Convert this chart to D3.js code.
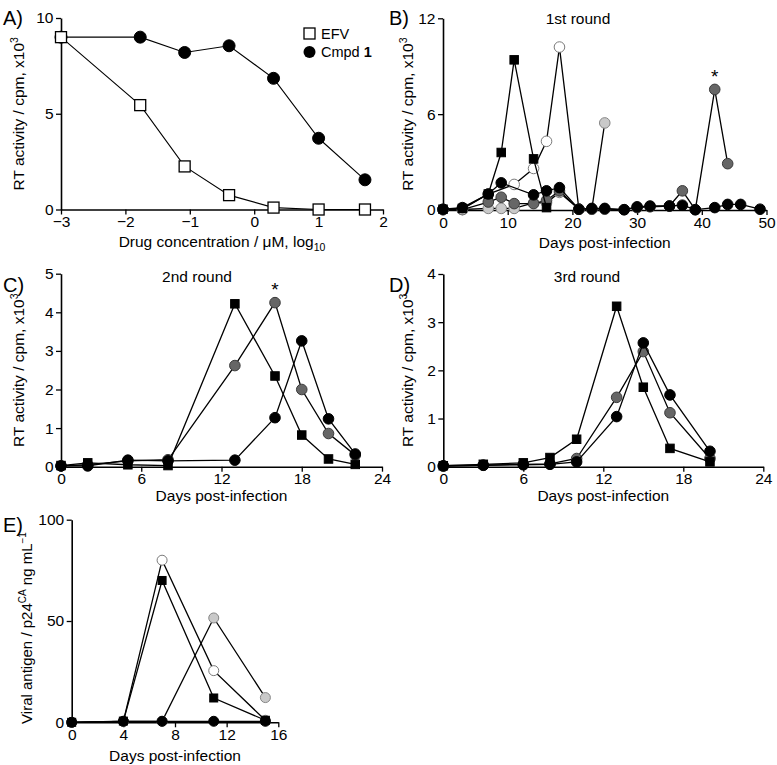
<!DOCTYPE html>
<html><head><meta charset="utf-8">
<script src="https://cdn.jsdelivr.net/npm/d3@7"></script>
<style>
body{margin:0;background:#fff;}
svg{display:block;font-family:"Liberation Sans",Arial,Helvetica,sans-serif;}
</style></head>
<body>
<script>
// ---------- DATA ----------
// Panel A
const aConc = [-3, -1.77, -1.08, -0.39, 0.3, 1.0, 1.72];
const aEFV  = [9.0, 5.45, 2.25, 0.75, 0.1, 0.0, 0.0];
const aCmpd = [9.0, 9.0, 8.2, 8.55, 6.85, 3.72, 1.55];
const aXTicks = [-3, -2, -1, 0, 1, 2];
const aYTicks = [0, 5, 10];
// Panel B (1st round)
const bSqDays    = [0, 3, 7, 9, 11, 14, 16];
const bSq        = [0.05, 0.1, 1.0, 3.6, 9.4, 3.2, 0.15];
const bOpenDays  = [0, 3, 7, 11, 14, 16, 18, 21];
const bOpen      = [0.03, 0.05, 1.0, 1.6, 2.6, 4.3, 10.2, 0.05];
const bLightDays = [0, 3, 7, 9, 11, 14, 16, 18, 21, 23, 25];
const bLight     = [0.02, 0.03, 0.1, 0.1, 0.1, 0.45, 0.45, 1.1, 0.05, 0.05, 5.45];
const bDarkDays  = [0, 3, 7, 9, 11, 14, 16, 18, 21, 23, 25, 28, 30, 32, 35, 37, 39, 42, 44];
const bDark      = [0.02, 0.03, 0.5, 0.8, 0.4, 0.4, 0.6, 1.2, 0.05, 0.05, 0.05, 0.02, 0.15, 0.2, 0.25, 1.2, 0.02, 7.55, 2.9];
const bBlackDays = [0, 3, 7, 9, 14, 16, 18, 21, 23, 25, 28, 30, 32, 35, 37, 39, 42, 44, 46, 49];
const bBlack     = [0.05, 0.15, 1.0, 1.7, 0.95, 1.2, 1.4, 0.05, 0.1, 0.1, 0.02, 0.2, 0.25, 0.25, 0.3, 0.02, 0.15, 0.35, 0.35, 0.05];
const bXTicks = [0, 10, 20, 30, 40, 50];
const bYTicks = [0, 6, 12];
// Panel C (2nd round)
const cDays  = [0, 2, 5, 8, 13, 16, 18, 20, 22];
const cSq    = [0.03, 0.1, 0.05, 0.03, 4.22, 2.35, 0.82, 0.2, 0.06];
const cGray  = [0.02, 0.05, 0.15, 0.18, 2.62, 4.25, 2.0, 0.86, 0.3];
const cBlack = [0.02, 0.02, 0.17, 0.15, 0.17, 1.27, 3.26, 1.24, 0.33];
const cXTicks = [0, 6, 12, 18, 24];
const cYTicks = [0, 1, 2, 3, 4, 5];
// Panel D (3rd round)
const dDays  = [0, 3, 6, 8, 10, 13, 15, 17, 20];
const dSq    = [0.02, 0.05, 0.08, 0.19, 0.57, 3.33, 1.65, 0.38, 0.1];
const dGray  = [0.01, 0.03, 0.05, 0.06, 0.17, 1.44, 2.39, 1.12, 0.17];
const dBlack = [0.02, 0.03, 0.04, 0.05, 0.1, 1.04, 2.57, 1.49, 0.32];
const dXTicks = [0, 6, 12, 18, 24];
const dYTicks = [0, 1, 2, 3, 4];
// Panel E (p24)
const eDays  = [0, 4, 7, 11, 15];
const eSq    = [0, 0.6, 70, 12, 1];
const eOpen  = [0, 0.5, 80, 25.5, 1];
const eLight = [0, 0.5, 0.5, 51.5, 12.2];
const eBlack = [0, 0.5, 0.5, 0.5, 0.5];
const eXTicks = [0, 4, 8, 12, 16];
const eYTicks = [0, 50, 100];

// ---------- STYLES ----------
const STY = {
  black: {shape:"circle", fill:"#000", stroke:"#000"},
  dark:  {shape:"circle", fill:"#666", stroke:"#3a3a3a"},
  light: {shape:"circle", fill:"#c9c9c9", stroke:"#858585"},
  open:  {shape:"circle", fill:"#fff", stroke:"#7a7a7a"},
  sq:    {shape:"square", fill:"#000", stroke:"#000"},
  osq:   {shape:"square", fill:"#fff", stroke:"#000"}
};

const W = 777, H = 765;
const svg = d3.select("body").append("svg").attr("width", W).attr("height", H);
const FS = 15.5;   // tick / axis label font
const fmt = d3.format("~g");

function panel(o) {
  const g = svg.append("g");
  const x = d3.scaleLinear().domain(o.xd).range(o.xr);
  const y = d3.scaleLinear().domain(o.yd).range(o.yr);
  const ax = g.append("g").attr("transform", `translate(0,${o.yr[0]})`)
    .call(d3.axisBottom(x).tickValues(o.xt).tickFormat(fmt).tickSize(5).tickSizeOuter(0).tickPadding(1.5));
  const ay = g.append("g").attr("transform", `translate(${o.xr[0]},0)`)
    .call(d3.axisLeft(y).tickValues(o.yt).tickFormat(fmt).tickSize(5).tickSizeOuter(0).tickPadding(2.5));
  [ax, ay].forEach(a => {
    a.select(".domain").attr("stroke", "#000").attr("stroke-width", 1.6);
    a.selectAll(".tick line").attr("stroke", "#000").attr("stroke-width", 1.3);
    a.selectAll("text").attr("fill", "#000").attr("font-size", FS).attr("font-family", "Liberation Sans, Arial, sans-serif");
  });
  o.series.forEach(s => {
    const pts = s.x.map((d, i) => [d, s.y[i]]);
    const st = STY[s.style];
    g.append("path").datum(pts)
      .attr("d", d3.line().x(d => x(d[0])).y(d => y(d[1])))
      .attr("fill", "none").attr("stroke", "#000").attr("stroke-width", o.lw || 1.3);
    if (st.shape === "circle") {
      g.selectAll(null).data(pts).enter().append("circle")
        .attr("cx", d => x(d[0])).attr("cy", d => y(d[1])).attr("r", o.r)
        .attr("fill", st.fill).attr("stroke", st.stroke).attr("stroke-width", 1);
    } else {
      g.selectAll(null).data(pts).enter().append("rect")
        .attr("x", d => x(d[0]) - o.sq / 2).attr("y", d => y(d[1]) - o.sq / 2)
        .attr("width", o.sq).attr("height", o.sq)
        .attr("fill", st.fill).attr("stroke", st.stroke).attr("stroke-width", st.fill === "#fff" ? 1.3 : 1);
    }
  });
  (o.stars || []).forEach(p => {
    g.append("text").attr("x", x(p[0])).attr("y", y(p[1]) - o.r - 1)
      .attr("text-anchor", "middle").attr("font-size", 19).text("*");
  });
  g.append("text").attr("x", o.letter[0]).attr("y", o.letter[1])
    .attr("font-size", 20).text(o.letter[2]);
  if (o.title) g.append("text").attr("x", o.title[0]).attr("y", o.title[1])
    .attr("text-anchor", "middle").attr("font-size", FS).text(o.title[2]);
  const xl = g.append("text").attr("x", (o.xr[0] + o.xr[1]) / 2 + (o.xlOff || 0)).attr("y", o.xlY)
    .attr("text-anchor", "middle").attr("font-size", FS);
  o.xlab(xl);
  const yc = o.ylY !== undefined ? o.ylY : (o.yr[0] + o.yr[1]) / 2;
  const yl = g.append("text")
    .attr("transform", `translate(${o.ylX},${yc}) rotate(-90)`)
    .attr("text-anchor", "middle").attr("font-size", o.ylFS || FS);
  o.ylab(yl);
  return {g, x, y};
}

function rtLabel(t) {
  t.append("tspan").text("RT activity / cpm, x10");
  t.append("tspan").attr("font-size", 10.5).attr("dy", -6).text("3");
}
function daysLabel(t) { t.text("Days post-infection"); }

// Panel A
const A = panel({
  xd: [-3, 2], xr: [61, 383], yd: [0, 10], yr: [209.5, 18],
  xt: aXTicks, yt: aYTicks, r: 6, sq: 11, lw: 1.1,
  series: [
    {x: aConc, y: aCmpd, style: "black"},
    {x: aConc, y: aEFV, style: "osq"}
  ],
  letter: [3, 25, "A)"], xlY: 247, ylX: 24,
  xlab: t => {
    t.append("tspan").text("Drug concentration / \u03bcM, log");
    t.append("tspan").attr("font-size", 10.5).attr("dy", 4).text("10");
  },
  ylab: rtLabel
});
const lg = A.g.append("g");
lg.append("rect").attr("x", 304).attr("y", 28).attr("width", 11).attr("height", 11)
  .attr("fill", "#fff").attr("stroke", "#000").attr("stroke-width", 1.3);
lg.append("text").attr("x", 321).attr("y", 39).attr("font-size", 14.5).text("EFV");
lg.append("circle").attr("cx", 309.5).attr("cy", 52).attr("r", 6).attr("fill", "#000");
const lt = lg.append("text").attr("x", 321).attr("y", 57).attr("font-size", 14.5);
lt.append("tspan").text("Cmpd ");
lt.append("tspan").attr("font-weight", "bold").text("1");

// Panel B
panel({
  xd: [0, 50], xr: [443, 766.5], yd: [0, 12], yr: [210, 18.3],
  xt: bXTicks, yt: bYTicks, r: 5.3, sq: 8.5,
  series: [
    {x: bLightDays, y: bLight, style: "light"},
    {x: bDarkDays, y: bDark, style: "dark"},
    {x: bOpenDays, y: bOpen, style: "open"},
    {x: bSqDays, y: bSq, style: "sq"},
    {x: bBlackDays, y: bBlack, style: "black"}
  ],
  stars: [[bDarkDays[17], bDark[17]]],
  letter: [389, 25, "B)"], title: [578, 24, "1st round"],
  xlY: 248, ylX: 413, xlab: daysLabel, ylab: rtLabel
});

// Panel C
panel({
  xd: [0, 24], xr: [61, 382], yd: [0, 5], yr: [466.7, 273.7],
  xt: cXTicks, yt: cYTicks, r: 5.3, sq: 8.5,
  series: [
    {x: cDays, y: cGray, style: "dark"},
    {x: cDays, y: cBlack, style: "black"},
    {x: cDays, y: cSq, style: "sq"}
  ],
  stars: [[cDays[5], cGray[5]]],
  letter: [3, 292, "C)"], title: [197, 282, "2nd round"],
  xlY: 501, ylX: 24, xlab: daysLabel, ylab: rtLabel
});

// Panel D
panel({
  xd: [0, 24], xr: [443.3, 763.3], yd: [0, 4], yr: [466.7, 274],
  xt: dXTicks, yt: dYTicks, r: 5.3, sq: 8.5,
  series: [
    {x: dDays, y: dGray, style: "dark"},
    {x: dDays, y: dBlack, style: "black"},
    {x: dDays, y: dSq, style: "sq"}
  ],
  letter: [389, 292, "D)"], title: [587, 282, "3rd round"],
  xlY: 501, ylX: 413, xlab: daysLabel, ylab: rtLabel
});

// Panel E
panel({
  xd: [0, 16], xr: [71.7, 278.3], yd: [0, 100], yr: [722.3, 519.7],
  xt: eXTicks, yt: eYTicks, r: 5, sq: 8,
  series: [
    {x: eDays, y: eLight, style: "light"},
    {x: eDays, y: eOpen, style: "open"},
    {x: eDays, y: eSq, style: "sq"},
    {x: eDays, y: eBlack, style: "black"}
  ],
  letter: [3, 532, "E)"],
  xlY: 761, ylX: 32, ylY: 628, ylFS: 15, xlab: daysLabel,
  ylab: t => {
    t.append("tspan").text("Viral antigen / p24");
    t.append("tspan").attr("font-size", 10).attr("dy", -6).text("CA");
    t.append("tspan").attr("dy", 6).text(" ng mL");
    t.append("tspan").attr("font-size", 10).attr("dy", -6).text("\u22121");
  }
});
</script>
</body></html>
